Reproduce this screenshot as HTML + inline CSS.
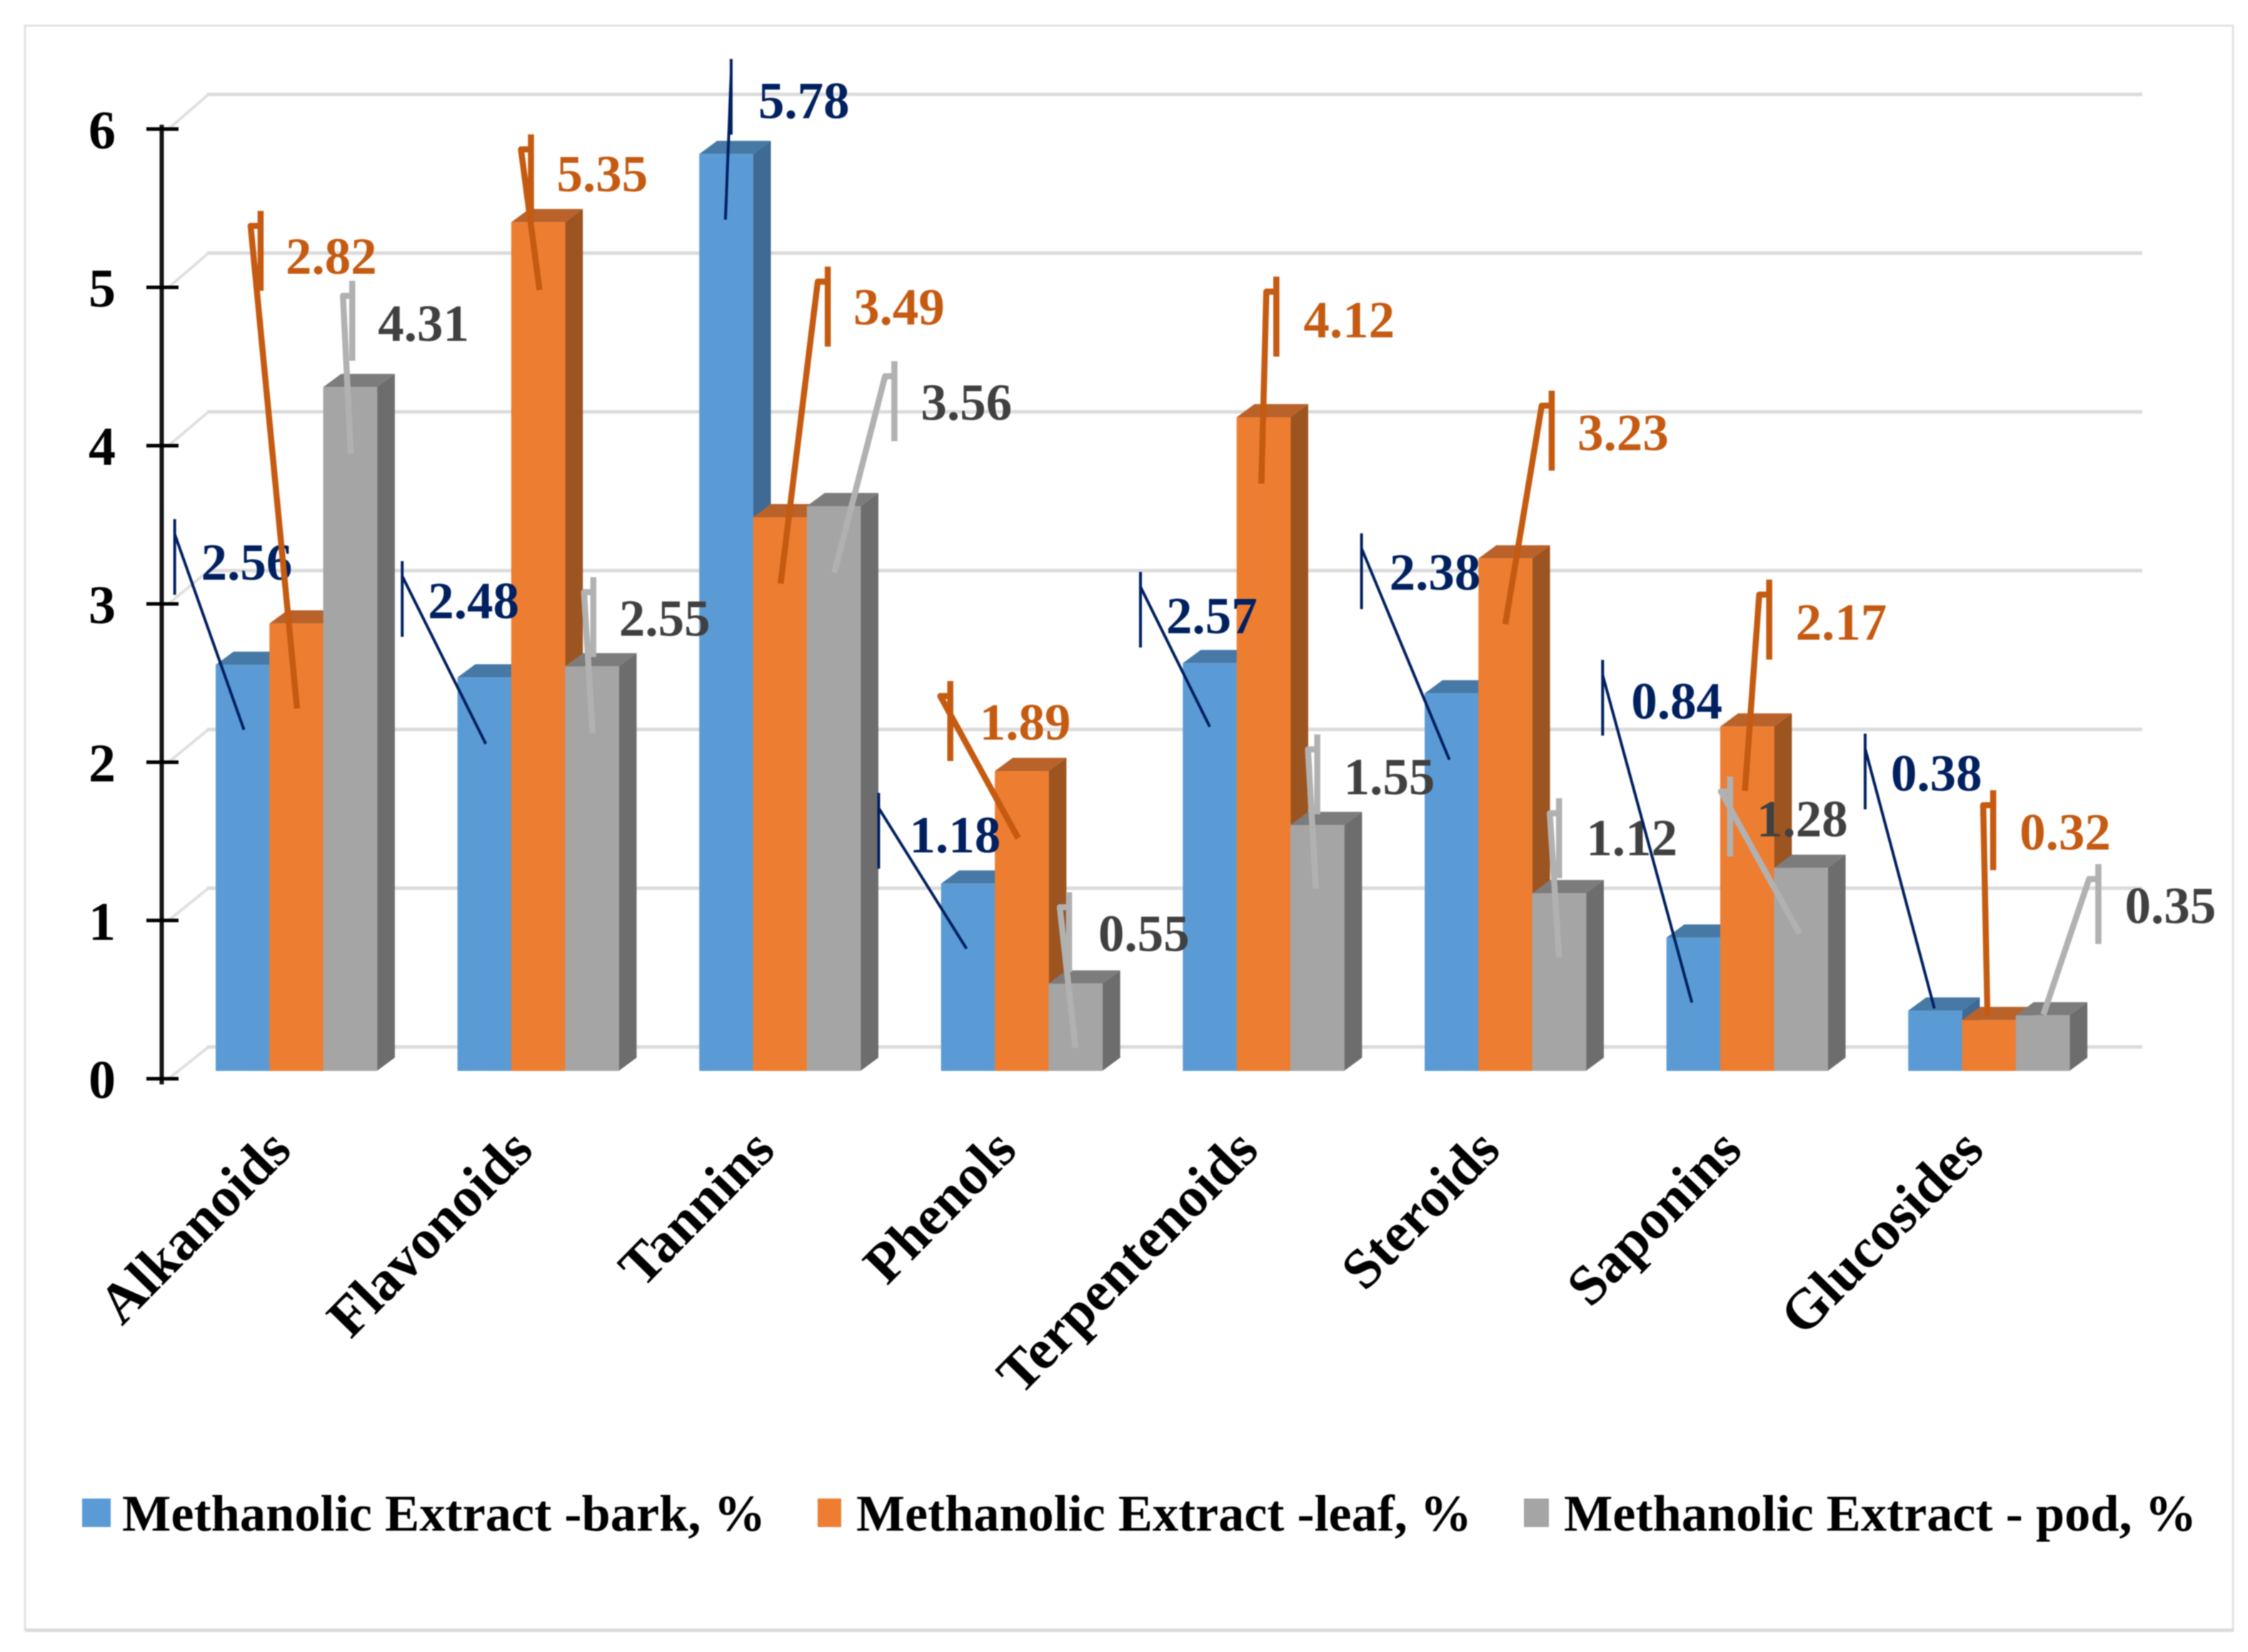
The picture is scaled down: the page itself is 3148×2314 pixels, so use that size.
<!DOCTYPE html>
<html lang="en">
<head>
<meta charset="utf-8">
<title>Methanolic Extract Phytochemical Chart</title>
<style>
html,body{margin:0;padding:0;background:#fff;}
svg{display:block;filter:blur(0.7px);}
text{font-family:"Liberation Serif",serif;font-weight:bold;}
</style>
</head>
<body>
<svg id="chart" xmlns="http://www.w3.org/2000/svg" width="3148" height="2314" viewBox="0 0 3148 2314">
  <rect x="0" y="0" width="3148" height="2314" fill="#ffffff"/>
  <path d="M35 2284V36H3127V2284" fill="none" stroke="#e3e3e3" stroke-width="3"/>
  <rect x="35" y="2281" width="3093" height="5" fill="#dcdcdc"/>
  <g id="grid"></g>
  <g id="axis"></g>
  <g id="bars"></g>
  <g id="labels"></g>
  <g id="leaders"></g>
  <g id="cats"></g>
  <g>
    <g>
      <rect x="115" y="2099" width="40" height="40" fill="#5B9BD5"/>
      <text x="171" y="2144" font-size="72" fill="#000" textLength="901" lengthAdjust="spacingAndGlyphs">Methanolic Extract -bark, %</text>
    </g>
    <g>
      <rect x="1145" y="2099" width="33" height="40" fill="#ED7D31"/>
      <text x="1199" y="2144" font-size="72" fill="#000" textLength="862" lengthAdjust="spacingAndGlyphs">Methanolic Extract -leaf, %</text>
    </g>
    <g>
      <rect x="2134" y="2099" width="35" height="40" fill="#A5A5A5"/>
      <text x="2190" y="2144" font-size="72" fill="#000" textLength="886" lengthAdjust="spacingAndGlyphs">Methanolic Extract - pod, %</text>
    </g>
  </g>
</svg>
<script>
// ---- data ----
const categories = ["Alkanoids","Flavonoids","Tannins","Phenols","Terpentenoids","Steroids","Saponins","Glucosides"];
const barkValues = [2.56,2.48,5.78,1.18,2.57,2.38,0.84,0.38];
const leafValues = [2.82,5.35,3.49,1.89,4.12,3.23,2.17,0.32];
const podValues  = [4.31,2.55,3.56,0.55,1.55,1.12,1.28,0.35];
const yTickLabels = ["0","1","2","3","4","5","6"];

// ---- label callout layout, relative to each bar's top centre:
// [leader dx, leader dy, end dx, end dy, label dx, label dy]
const barkCallouts = [[-95,-204,2,91,-58,-119],[-115,-163,2,93,-79,-83],[7,-133,-1,92,45,-50],[-125,-127,-2,91,-82,-44],[-97,-128,0,89,-61,-42],[-126,-224,-3,93,-87,-145],[-127,-389,-2,91,-87,-307],[-98,-388,-1,-3,-62,-308]];
const leafCallouts = [[-50,-578,1,119,-15,-490],[-10,-123,2,95,26,-43],[67,-351,1,93,103,-270],[-100,-126,-5,94,-59,-44],[18,-197,-3,93,56,-112],[65,-235,0,92,101,-152],[31,-206,-3,90,68,-122],[6,-322,-2,-6,43,-239]];
const podCallouts  = [[3,-149,1,93,39,-65],[2,-125,1,94,38,-43],[85,-203,1,93,122,-121],[-9,-128,0,90,32,-46],[0,-127,-2,89,37,-43],[0,-133,0,90,38,-53],[-99,-128,-2,92,-62,-44],[78,-212,1,-1,115,-129]];

// ---- scales ----
const barBaseY = 1500, barUnit = 222.2;
const axisBaseY = 1511, axisUnit = 221.7;
const backBaseY = 1466.5, backUnit = 222.4;
const firstBarX = 302, groupStep = 338.6, barWidth = 75.3;
const depthX = 25, depthY = 18.5;
function yBar(v){ return barBaseY - barUnit * v; }
function yAxis(v){ return axisBaseY - axisUnit * v; }
function yBack(v){ return backBaseY - backUnit * v; }
function xBar(group, serie){ return firstBarX + groupStep * group + barWidth * serie; }

const NS = "http://www.w3.org/2000/svg";
function el(parent, tag, attrs){
  const e = document.createElementNS(NS, tag);
  for (const k in attrs) e.setAttribute(k, attrs[k]);
  parent.appendChild(e);
  return e;
}
function pts(a){ return a.map(p => p[0].toFixed(1) + "," + p[1].toFixed(1)).join(" "); }

const seriesList = [
  {key:"bark", values:barkValues, callouts:barkCallouts, front:"#5B9BD5", top:"#4679A6", side:"#3E6A93", text:"#002060", line:"#002060", lw:4, elbow:0, vLen:106},
  {key:"leaf", values:leafValues, callouts:leafCallouts, front:"#ED7D31", top:"#B9622A", side:"#9C5420", text:"#C55A11", line:"#C55A11", lw:8.5, elbow:14, vLen:112},
  {key:"pod",  values:podValues,  callouts:podCallouts,  front:"#A5A5A5", top:"#7C7C7C", side:"#6D6D6D", text:"#404040", line:"#B2B1B1", lw:8.5, elbow:13, vLen:112}
];

// ---- grid ----
const gridG = document.getElementById("grid");
yTickLabels.forEach(function(t){
  const v = +t;
  const diag = el(gridG, "line", {x1:236, y1:yAxis(v), x2:292, y2:yBack(v), stroke:"#e0e0e0", "stroke-width":4});
  
  
  const line = el(gridG, "line", {x1:290, y1:yBack(v), x2:3000, y2:yBack(v), stroke:"#dcdcdc", "stroke-width":5});
  
  
});

// ---- axis ----
const axisG = document.getElementById("axis");
const axisLine = el(axisG, "line", {x1:226.5, y1:yAxis(6)-6, x2:226.5, y2:yAxis(0)+8, stroke:"#151515", "stroke-width":6});


yTickLabels.forEach(function(t){
  const v = +t;
  const tick = el(axisG, "line", {x1:205, y1:yAxis(v), x2:250, y2:yAxis(v), stroke:"#000", "stroke-width":5});
  
  
  const lab = el(axisG, "text", {x:143, y:yAxis(v)+27, "font-size":76, "text-anchor":"middle", fill:"#000"});
  lab.textContent = t;
  
  
});

// ---- bars, labels, leaders ----
const barsG = document.getElementById("bars");
const labelsG = document.getElementById("labels");
const leadersG = document.getElementById("leaders");
categories.forEach(function(cat, g){
  seriesList.forEach(function(s, si){
    const v = s.values[g];
    const x0 = xBar(g, si), x1 = x0 + barWidth, yT = yBar(v), yB = barBaseY;
    const bar = el(barsG, "g", {});
    
    
    const side = el(bar, "polygon", {points:pts([[x1,yT],[x1+depthX,yT-depthY],[x1+depthX,yB-depthY],[x1,yB]]), fill:s.side});
    
    
    const top = el(bar, "polygon", {points:pts([[x0,yT],[x0+depthX,yT-depthY],[x1+depthX,yT-depthY],[x1,yT]]), fill:s.top});
    
    
    const front = el(bar, "rect", {x:x0, y:yT, width:barWidth + 0.5, height:yB-yT, fill:s.front});
    
    

    const cx = x0 + barWidth/2;
    const c = s.callouts[g];
    const vx = cx + c[0], vTop = yT + c[1];
    const ex = cx + c[2], ey = yT + c[3];
    const lead = el(leadersG, "path", {
      d:"M"+vx+" "+(vTop+s.vLen)+"L"+vx+" "+vTop+"M"+vx+" "+(vTop+21)+"L"+(vx-s.elbow)+" "+(vTop+21)+"L"+ex+" "+ey,
      fill:"none", stroke:s.line, "stroke-width":s.lw, "stroke-linejoin":"round"
    });
    
    

    const lab = el(labelsG, "text", {x:cx + c[4], y:yT + c[5], "font-size":73, fill:s.text});
    lab.textContent = v.toFixed(2);
    
    
  });
  const catG = document.getElementById("cats");
  const cx = 411 + groupStep * g, cy = 1614;
  const t = el(catG, "text", {x:cx, y:cy, "font-size":79, "text-anchor":"end", fill:"#000", transform:"rotate(-45.5 "+cx+" "+cy+")"});
  t.textContent = cat;
  
  
});
</script>
</body>
</html>
